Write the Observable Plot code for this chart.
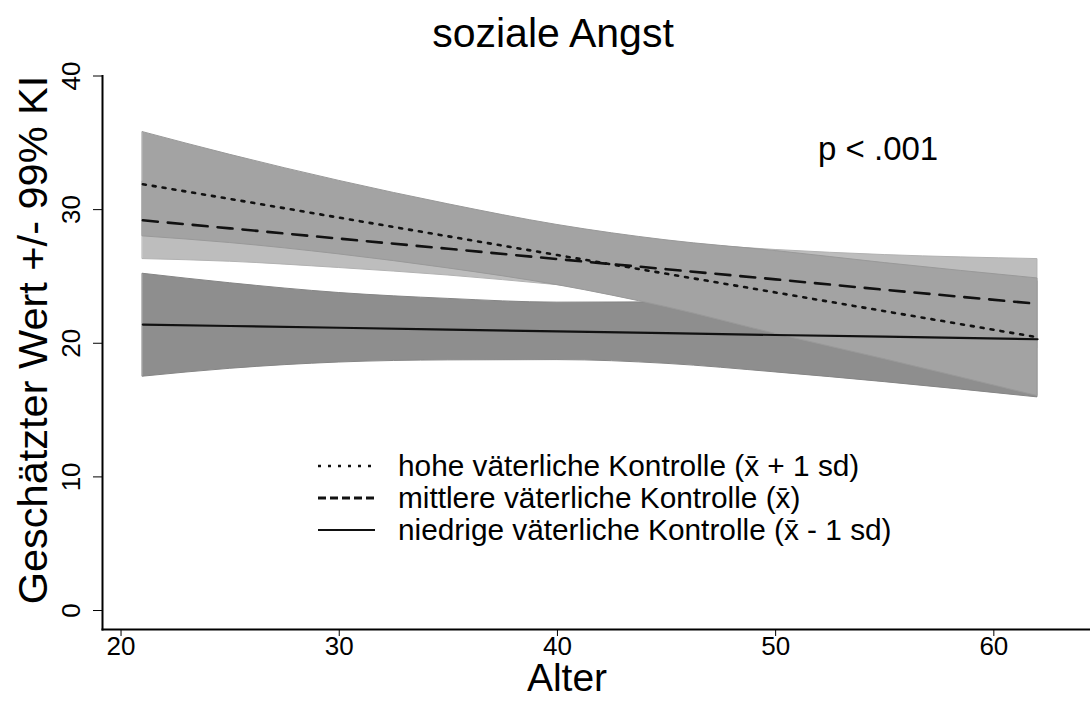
<!DOCTYPE html>
<html><head><meta charset="utf-8">
<script src="https://cdn.jsdelivr.net/npm/d3@7"></script>
<script src="https://cdn.jsdelivr.net/npm/@observablehq/plot@0.6"></script>
<style>
body{margin:0;background:#fff;}
#chart{width:1090px;height:715px;}
svg{font-family:"Liberation Sans",Arial,sans-serif;}
</style></head><body><div id="chart"></div>
<script>
// ---- data ----
const ages = [21, 25, 30, 35, 40, 45, 50, 55, 62];
const hoheMean = [31.9, 30.8, 29.4, 28.0, 26.6, 25.2, 23.8, 22.4, 20.45];
const hoheLo   = [28.0, 27.5, 26.65, 25.6, 24.35, 22.7, 20.7, 18.8, 16.05];
const hoheHi   = [35.8, 34.1, 32.15, 30.4, 28.85, 27.7, 26.9, 26.0, 24.85];
const mittMean = [29.2, 28.6, 27.83, 27.07, 26.3, 25.54, 24.78, 24.0, 22.95];
const mittLo   = [26.3, 26.1, 25.63, 25.07, 24.35, 23.54, 22.58, 21.4, 19.6];
const mittHi   = [32.1, 31.1, 30.03, 29.07, 28.25, 27.54, 26.98, 26.6, 26.3];
const niedMean = [21.4, 21.29, 21.16, 21.02, 20.89, 20.76, 20.62, 20.49, 20.3];
const niedLo   = [17.5, 18.09, 18.56, 18.72, 18.74, 18.46, 17.82, 17.09, 15.95];
const niedHi   = [25.2, 24.49, 23.76, 23.32, 23.04, 23.06, 23.42, 23.89, 24.65];
const xTicks = [20, 30, 40, 50, 60];
const yTicks = [0, 10, 20, 30, 40];
const xDomain = [19.15, 64.43];
const yDomain = [-1.42, 40];
const title = "soziale Angst";
const xLabel = "Alter";
const yLabel = "Geschätzter Wert +/- 99% KI";
const pText = "p < .001";
const legendLabels = [
  "hohe väterliche Kontrolle (x\u0304 + 1 sd)",
  "mittlere väterliche Kontrolle (x\u0304)",
  "niedrige väterliche Kontrolle (x\u0304 - 1 sd)"
];

function rows(mean, lo, hi) {
  return ages.map((a, i) => ({age: a, mean: mean[i], lo: lo[i], hi: hi[i]}));
}
const hohe = rows(hoheMean, hoheLo, hoheHi);
const mitt = rows(mittMean, mittLo, mittHi);
const nied = rows(niedMean, niedLo, niedHi);

const cNied = "#8e8e8e", cMitt = "#bdbdbd", cHohe = "#a3a3a3";
const font = "'Liberation Sans', Arial, sans-serif";

const plot = Plot.plot({
  width: 1090, height: 715,
  marginLeft: 102, marginRight: 0, marginTop: 75.5, marginBottom: 86,
  x: {domain: xDomain, axis: null},
  y: {domain: yDomain, axis: null},
  style: {fontFamily: font, background: "white", color: "black"},
  marks: [
    Plot.areaY(nied, {x: "age", y1: "lo", y2: "hi", fill: cNied, stroke: "#858585", strokeWidth: 1, curve: "monotone-x"}),
    Plot.areaY(mitt, {x: "age", y1: "lo", y2: "hi", fill: cMitt, stroke: "#b2b2b2", strokeWidth: 1, curve: "monotone-x"}),
    Plot.areaY(hohe, {x: "age", y1: "lo", y2: "hi", fill: cHohe, stroke: "#999999", strokeWidth: 1, curve: "monotone-x"}),
    Plot.lineY(nied, {x: "age", y: "mean", stroke: "#111", strokeWidth: 2.2}),
    Plot.lineY(mitt, {x: "age", y: "mean", stroke: "#111", strokeWidth: 2.6, strokeDasharray: "15,10"}),
    Plot.lineY(hohe, {x: "age", y: "mean", stroke: "#111", strokeWidth: 2.6, strokeDasharray: "3,7"}),
    Plot.frame({anchor: "left", stroke: "#000", strokeWidth: 2}),
    Plot.frame({anchor: "bottom", stroke: "#000", strokeWidth: 2}),
    Plot.axisX({ticks: xTicks, label: null, tickSize: 7, tickPadding: 0, fontSize: 26, stroke: "#000"}),
    Plot.axisY({ticks: yTicks, label: null, tickSize: 9, tickPadding: 14, fontSize: 26, tickRotate: -90, stroke: "#000"})
  ]
});
document.getElementById("chart").appendChild(plot);

// ---- annotations: titles, p-value, legend ----
const svg = d3.select(plot);
svg.append("text").attr("x", 553).attr("y", 47).attr("text-anchor", "middle")
  .attr("font-size", 41).attr("font-family", font).text(title);
svg.append("text").attr("x", 567).attr("y", 691).attr("text-anchor", "middle")
  .attr("font-size", 39).attr("font-family", font).text(xLabel);
svg.append("text").attr("transform", "translate(47,340) rotate(-90)").attr("text-anchor", "middle")
  .attr("font-size", 41.5).attr("font-family", font).text(yLabel);
svg.append("text").attr("x", 818).attr("y", 160).attr("text-anchor", "start")
  .attr("font-size", 33).attr("font-family", font).text(pText);

const dashes = ["3,7", "8,4", null];
const widths = [2.6, 2.8, 2];
const lg = svg.append("g");
legendLabels.forEach((lab, i) => {
  const cy = 466 + i * 32;
  const ln = lg.append("line").attr("x1", 318).attr("x2", 375).attr("y1", cy).attr("y2", cy)
    .attr("stroke", "#111").attr("stroke-width", widths[i]);
  if (dashes[i]) ln.attr("stroke-dasharray", dashes[i]);
  lg.append("text").attr("x", 398).attr("y", cy + 10).attr("text-anchor", "start").attr("font-size", 29.8)
    .attr("font-family", font).text(lab);
});
</script></body></html>
